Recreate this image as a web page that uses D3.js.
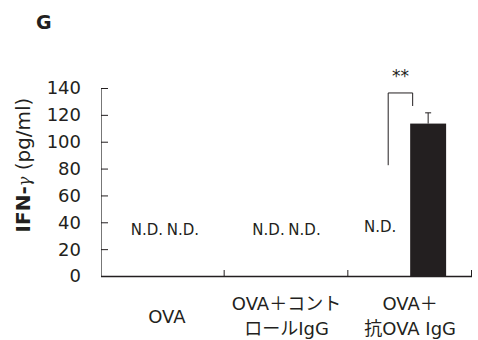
<!DOCTYPE html>
<html>
<head>
<meta charset="utf-8">
<script src="https://cdn.jsdelivr.net/npm/d3@7"></script>
<style>
body { margin: 0; background: #fff; }
text { font-family: "DejaVu Sans", "Noto Sans CJK JP", sans-serif; fill: #231f20; }
</style>
</head>
<body>
<div id="figure"></div>
<script>
var w = 478;
var h = 340;
var margin = { top: 88, right: 6, bottom: 64, left: 101 };
var chartWidth = w - margin.left - margin.right;
var chartHeight = h - margin.top - margin.bottom;

// data
var groups = ["OVA", "OVA＋コントロールIgG", "OVA＋抗OVA IgG"];
var groupLines = [["OVA"], ["OVA＋コント", "ロールIgG"], ["OVA＋", "抗OVA IgG"]];
var series = ["a", "b"];
var values = [[null, null], [null, null], [null, 113.5]];
var errors = [[null, null], [null, null], [null, 8]];
var yTicks = [0, 20, 40, 60, 80, 100, 120, 140];
var bracket = [82.5, 136.3, 126.6]; // left foot, top, right foot
var sigLabel = "**";

var svg = d3.select('#figure')
	.append('svg')
	.attr('width', w)
	.attr('height', h);

svg.append('text')
	.attr('x', 36)
	.attr('y', 29)
	.attr('font-size', 19)
	.attr('font-weight', 'bold')
	.text('G');

var chart = svg.append('g')
	.attr('transform', 'translate(' + margin.left + ',' + margin.top + ')');

var x0 = d3.scaleBand()
	.domain(groups)
	.range([0, chartWidth]);

var x1 = d3.scaleBand()
	.domain(series)
	.range([0, x0.bandwidth()])
	.paddingInner(0)
	.paddingOuter(0.72);

var y = d3.scaleLinear()
	.domain([0, 140])
	.range([chartHeight, 0]);

// y axis
var yAxis = d3.axisRight(y)
	.tickValues(yTicks)
	.tickSize(7)
	.tickFormat('');

var yG = chart.append('g').call(yAxis);
yG.select('.domain').attr('stroke', '#777').attr('d', 'M0.5,0V' + chartHeight);
yG.selectAll('.tick line').attr('stroke', '#231f20');

chart.append('g')
	.selectAll('text')
	.data(yTicks)
	.enter()
	.append('text')
	.attr('x', -20)
	.attr('y', function(d){ return y(d); })
	.attr('dy', '0.36em')
	.attr('text-anchor', 'end')
	.attr('font-size', 18)
	.text(function(d){ return d; });

// y label
var yl = svg.append('text')
	.attr('transform', 'translate(30,' + 165 + ') rotate(-90)')
	.attr('text-anchor', 'middle')
	.attr('font-size', 20);
yl.append('tspan').attr('font-weight', 'bold').text('IFN-');
yl.append('tspan').attr('font-family', 'DejaVu Serif').attr('font-style', 'italic').attr('font-size', 16).text('γ');
yl.append('tspan').text(' (pg/ml)');

// x axis
chart.append('line')
	.attr('x1', 0)
	.attr('x2', chartWidth)
	.attr('y1', chartHeight + 0.5)
	.attr('y2', chartHeight + 0.5)
	.attr('stroke', '#231f20')
	.attr('stroke-width', 1.5);

chart.append('g')
	.selectAll('line')
	.data(groups)
	.enter()
	.append('line')
	.attr('x1', function(d){ return x0(d) + x0.bandwidth() - 0.5; })
	.attr('x2', function(d){ return x0(d) + x0.bandwidth() - 0.5; })
	.attr('y1', chartHeight)
	.attr('y2', chartHeight - 6)
	.attr('stroke', '#231f20');

// category labels
groupLines.forEach(function(lines, i){
	var cx = x0(groups[i]) + x0.bandwidth() / 2 + (i === 0 ? 4 : 0);
	var t = chart.append('text')
		.attr('x', cx)
		.attr('y', chartHeight + (lines.length === 1 ? 47 : 34))
		.attr('text-anchor', 'middle')
		.attr('font-size', 18);
	lines.forEach(function(l, j){
		t.append('tspan')
			.attr('x', cx)
			.attr('dy', j === 0 ? 0 : 25)
			.text(l);
	});
});

// bars
var flat = [];
groups.forEach(function(g, i){
	series.forEach(function(s, j){
		flat.push({ g: g, s: s, v: values[i][j], e: errors[i][j], gi: i });
	});
});

chart.selectAll('rect.bar')
	.data(flat.filter(function(d){ return d.v !== null; }))
	.enter()
	.append('rect')
	.attr('class', 'bar')
	.attr('x', function(d){ return x0(d.g) + x1(d.s); })
	.attr('y', function(d){ return y(d.v); })
	.attr('width', x1.bandwidth())
	.attr('height', function(d){ return chartHeight - y(d.v); })
	.attr('fill', '#231f20');

var errG = chart.selectAll('g.err')
	.data(flat.filter(function(d){ return d.v !== null; }))
	.enter()
	.append('g');
errG.append('line')
	.attr('x1', function(d){ return x0(d.g) + x1(d.s) + x1.bandwidth() / 2; })
	.attr('x2', function(d){ return x0(d.g) + x1(d.s) + x1.bandwidth() / 2; })
	.attr('y1', function(d){ return y(d.v); })
	.attr('y2', function(d){ return y(d.v + d.e); })
	.attr('stroke', '#231f20');
errG.append('line')
	.attr('x1', function(d){ return x0(d.g) + x1(d.s) + x1.bandwidth() / 2 - 3; })
	.attr('x2', function(d){ return x0(d.g) + x1(d.s) + x1.bandwidth() / 2 + 3; })
	.attr('y1', function(d){ return y(d.v + d.e); })
	.attr('y2', function(d){ return y(d.v + d.e); })
	.attr('stroke', '#231f20');

// N.D. labels
chart.selectAll('text.nd')
	.data(flat.filter(function(d){ return d.v === null; }))
	.enter()
	.append('text')
	.attr('class', 'nd')
	.attr('x', function(d){
		var cx = x0(d.g) + x0.bandwidth() / 2;
		if (d.gi === 2) return x0(d.g) + x1(d.s) + x1.bandwidth() / 2 - 12;
		return cx + (d.gi === 0 ? 2 : 0) + (d.s === 'a' ? -18 : 18);
	})
	.attr('y', function(d){ return d.gi === 2 ? y(32.5) : y(30.5); })
	.attr('text-anchor', 'middle')
	.attr('font-size', 15)
	.text('N.D.');

// significance bracket
var bx1 = x0(groups[2]) + x1('a') + x1.bandwidth() / 2 - 4;
var bx2 = x0(groups[2]) + x1('b') + 2.5;
chart.append('path')
	.attr('d', 'M' + bx1 + ',' + y(bracket[0]) + 'V' + y(bracket[1]) + 'H' + bx2 + 'V' + y(bracket[2]))
	.attr('fill', 'none')
	.attr('stroke', '#231f20');
chart.append('text')
	.attr('x', (bx1 + bx2) / 2)
	.attr('y', y(bracket[1]) - 11)
	.attr('text-anchor', 'middle')
	.attr('font-size', 17)
	.text(sigLabel);
</script>
</body>
</html>
